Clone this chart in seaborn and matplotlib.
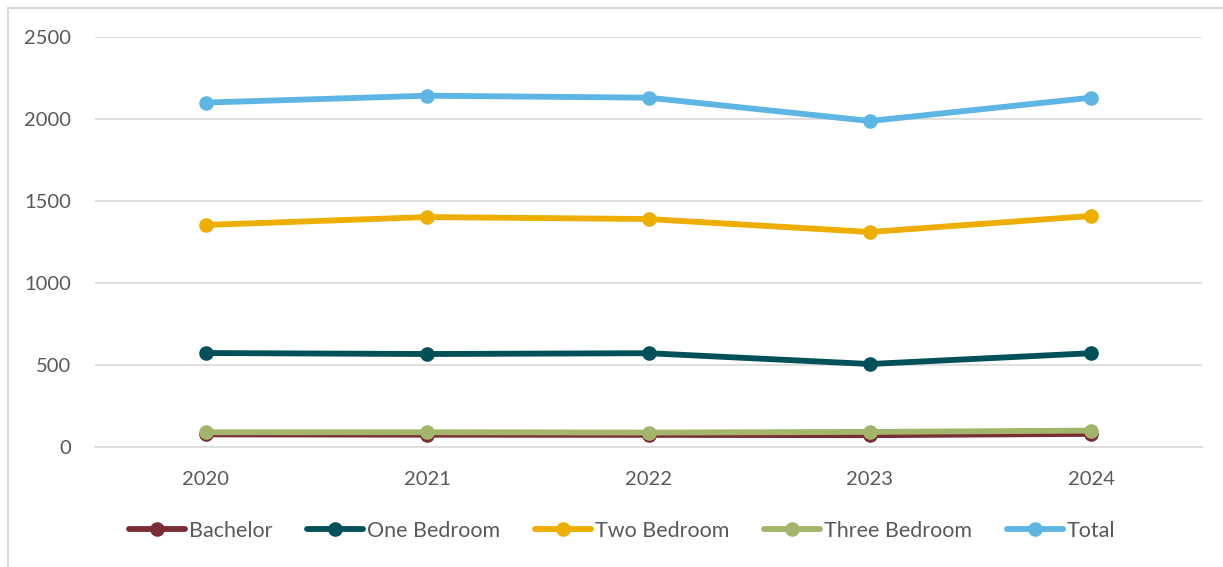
import matplotlib
matplotlib.use("Agg")
import matplotlib.pyplot as plt
from matplotlib.patches import Rectangle
import seaborn as sns
import pandas as pd

years = ["2020", "2021", "2022", "2023", "2024"]
bachelor = [77, 75, 74, 72, 80]
one_bedroom = [573, 567, 572, 506, 572]
two_bedroom = [1354, 1402, 1390, 1311, 1409]
three_bedroom = [90, 90, 88, 92, 100]
total = [2100, 2142, 2130, 1988, 2130]

series_names = ["Bachelor", "One Bedroom", "Two Bedroom", "Three Bedroom", "Total"]
series_values = [bachelor, one_bedroom, two_bedroom, three_bedroom, total]
colors = ["#7B2D35", "#00505A", "#EDAE00", "#A2B56A", "#5DB5E3"]
yticks = [0, 500, 1000, 1500, 2000, 2500]

rows = []
for name, vals in zip(series_names, series_values):
    for y, v in zip(years, vals):
        rows.append({"Year": y, "Series": name, "Value": v})
df = pd.DataFrame(rows)

sns.set_theme(style="white")
plt.rcParams["font.family"] = ["Lato", "DejaVu Sans"]

fig = plt.figure(figsize=(12.23, 5.67), dpi=100)
ax = fig.add_axes([95 / 1223, 1 - 447 / 567, (1202 - 95) / 1223, (447 - 37) / 567])

sns.lineplot(data=df, x="Year", y="Value", hue="Series", hue_order=series_names,
             palette=colors, marker="o", markersize=10.5, markeredgewidth=0,
             linewidth=4.2, sort=False, ax=ax, legend=True)

ax.set_xlim(-0.5, 4.5)
ax.set_ylim(0, 2500)
ax.set_yticks(yticks)
ax.set_yticklabels([str(t) for t in yticks])
ax.yaxis.grid(True, color="#D9D9D9", linewidth=1.2)
ax.set_axisbelow(True)
for s in ["top", "right", "left"]:
    ax.spines[s].set_visible(False)
ax.spines["bottom"].set_color("#D9D9D9")
ax.spines["bottom"].set_linewidth(1.2)
ax.set_xlabel("")
ax.set_ylabel("")
ax.tick_params(axis="both", length=0, labelsize=14.5, labelcolor="#595959")
ax.tick_params(axis="x", pad=17)
ax.tick_params(axis="y", pad=17)

handles, labels = ax.get_legend_handles_labels()
ax.legend_.remove()
fig.legend(handles, labels, loc="center", bbox_to_anchor=(622 / 1223, 1 - 531 / 567),
           ncol=5, frameon=False, fontsize=15.5, labelcolor="#595959",
           handlelength=2.6, handletextpad=0.2, columnspacing=1.6)

fig.patches.append(Rectangle((7.5 / 1223, -0.1), 1.2, 1 - 7.5 / 567 + 0.1,
                             transform=fig.transFigure, fill=False,
                             edgecolor="#D9D9D9", linewidth=1.5))

fig.savefig("out.png", dpi=100)
